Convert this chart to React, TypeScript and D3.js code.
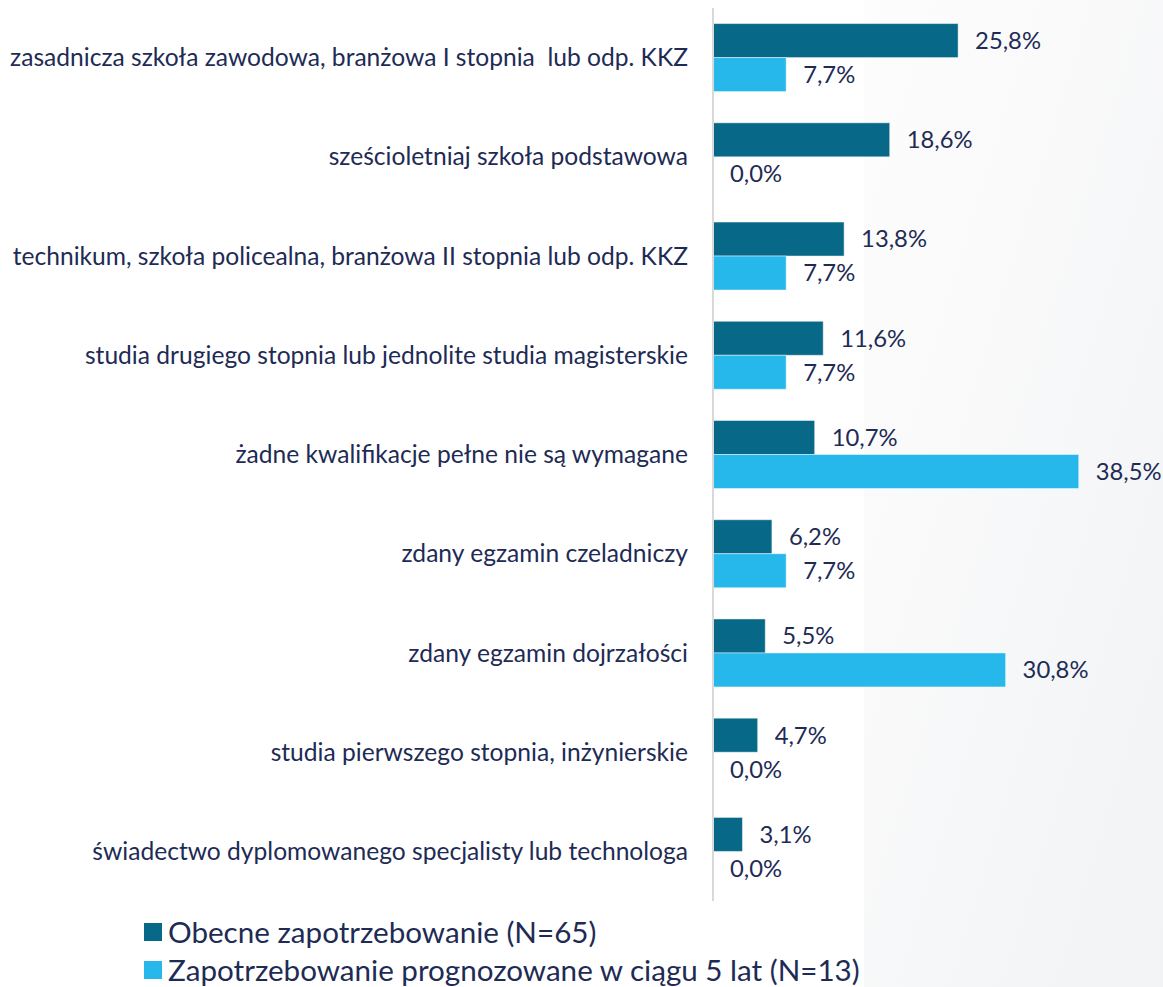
import * as d3 from 'd3'
import React from 'react'

const categories = [
  'zasadnicza szkoła zawodowa, branżowa I stopnia  lub odp. KKZ',
  'sześcioletniaj szkoła podstawowa',
  'technikum, szkoła policealna, branżowa II stopnia lub odp. KKZ',
  'studia drugiego stopnia lub jednolite studia magisterskie',
  'żadne kwalifikacje pełne nie są wymagane',
  'zdany egzamin czeladniczy',
  'zdany egzamin dojrzałości',
  'studia pierwszego stopnia, inżynierskie',
  'świadectwo dyplomowanego specjalisty lub technologa',
]
const obecne = [25.8, 18.6, 13.8, 11.6, 10.7, 6.2, 5.5, 4.7, 3.1]
const prognoza = [7.7, 0.0, 7.7, 7.7, 38.5, 7.7, 30.8, 0.0, 0.0]
const seriesNames = ['Obecne zapotrzebowanie (N=65)', 'Zapotrzebowanie prognozowane w ciągu 5 lat (N=13)']

const W = 1163
const H = 987
const colors = ['#076888', '#27b8eb']
const textColor = '#1e2b55'
const font = 'Lato, "Open Sans", sans-serif'

export default function App() {
  const x0 = 713
  const x = d3.scaleLinear().domain([0, 1]).range([x0, x0 + 950])
  const y = d3.scaleBand().domain(categories).range([8, 901]).paddingInner(0.315).paddingOuter(0.157)
  const inner = d3.scaleBand().domain(['0', '1']).range([0, y.bandwidth()])
  const fmt = (v: number) => d3.format('.1f')(v).replace('.', ',') + '%'
  const series = [obecne, prognoza]

  return (
    <svg width={W} height={H} style={{ position: 'absolute', left: 0, top: 0, background: '#fff' }}>
      <defs>
        <linearGradient id="bg" x1="0" y1="0" x2="1" y2="1">
          <stop offset="0" stopColor="#fdfdfd" />
          <stop offset="1" stopColor="#f2f3f5" />
        </linearGradient>
      </defs>
      <rect x={864} y={0} width={W - 864} height={H} fill="url(#bg)" />

      {categories.map((c, i) => (
        <g key={c}>
          {series.map((s, k) => {
            const v = s[i]
            const by = (y(c) as number) + (inner(String(k)) as number)
            const bh = inner.bandwidth()
            return (
              <g key={k}>
                {v > 0 && (
                  <rect x={x(0)} y={by} width={x(v / 100) - x(0)} height={bh}
                    fill={colors[k]} stroke="#ffffff" strokeOpacity={0.45} strokeWidth={1} />
                )}
                <text x={x(v / 100) + 17} y={by + bh / 2} dy="0.35em"
                  fontFamily={font} fontSize={23.8} fill={textColor}>{fmt(v)}</text>
              </g>
            )
          })}
          <text x={688} y={(y(c) as number) + y.bandwidth() / 2} dy="0.35em" textAnchor="end"
            fontFamily={font} fontSize={24.6} fill={textColor} style={{ whiteSpace: 'pre' }}>{c}</text>
        </g>
      ))}

      <line x1={x0} x2={x0} y1={8} y2={901} stroke="#d9d9d9" strokeWidth={2} />

      {seriesNames.map((n, k) => (
        <g key={n} transform={`translate(144, ${923 + k * 38})`}>
          <rect x={0} y={0} width={18} height={18} fill={colors[k]} />
          <text x={24} y={10} dy="0.35em" fontFamily={font} fontSize={29.6} fill={textColor}>{n}</text>
        </g>
      ))}
    </svg>
  )
}
